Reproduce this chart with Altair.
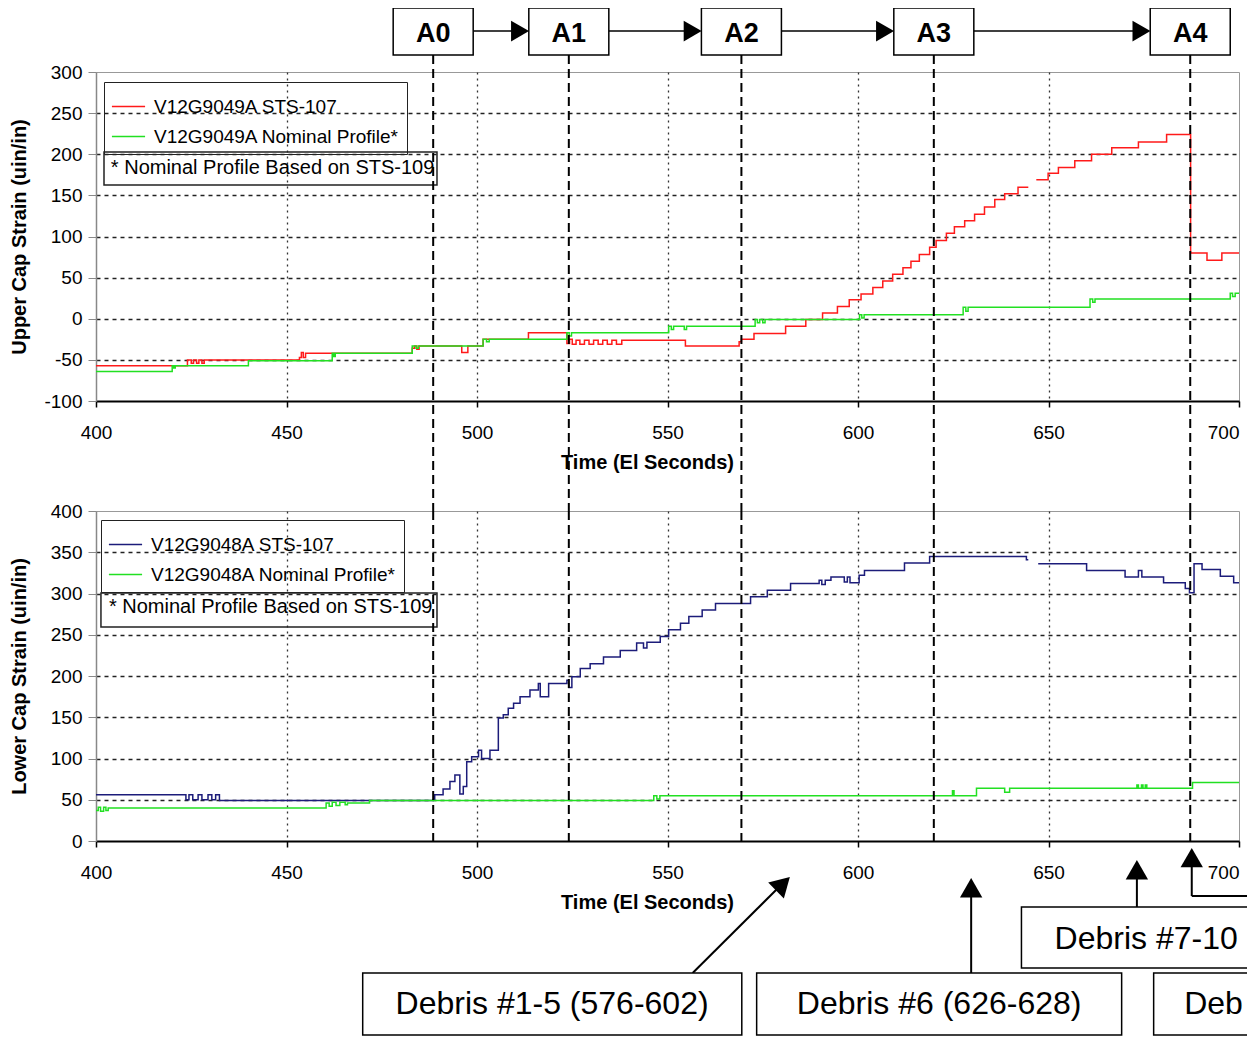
import altair as alt
import pandas as pd

# ---------------- data ----------------
# None in a value list marks a gap in the recorded trace
upper_107_t = [400, 424, 425, 425.6, 426.4, 427, 427.8, 428.4, 453.4, 453.9, 454.4, 455,
               483, 483.6, 484.2, 484.8, 496, 497.6, 501.6, 513.5, 523.6, 524.3, 525, 526,
               527, 528.2, 529.4, 530.6, 531.8, 533, 534.2, 535.4, 536.6, 538, 554.7, 568.8,
               569.4, 572.7, 581, 586.3, 590.7, 594.6, 597.7, 600.8, 603.9, 606.5, 609.1,
               611.8, 613.9, 616.1, 618.8, 620.5, 623.2, 625.3, 628, 630.6, 633.2, 635.9,
               638.5, 642, 644.7, 644.7, 646.8, 649.9, 652.6, 656.9, 661.3, 666.6, 673.6,
               681, 687.3, 691.6, 695.5, 700]
upper_107_v = [-57, -50, -54, -50, -54, -50, -54, -50, -47, -41, -47, -42,
               -36, -33, -37, -33, -41, -33, -25, -17, -30, -25, -31, -26,
               -31, -26, -31, -26, -31, -26, -31, -26, -31, -26, -33, -28,
               -25, -18, -9, -1, 7, 15, 23, 30, 38, 46, 54,
               62, 70, 78, 87, 95, 104, 112, 119, 127, 136, 145,
               152, 160, 160, None, 169, 177, 184, 192, 200, 208, 215,
               224, 80, 71, 80, 80]

upper_nom_t = [400, 420, 420.4, 420.8, 440, 462, 462.4, 462.8, 483, 484, 484.6, 501.6, 502.5,
               503.2, 523.6, 524.2, 524.8, 550.3, 551, 551.6, 554.4, 555, 573, 573.6, 574.2,
               575, 575.6, 600.4, 601, 601.6, 627.6, 628.3, 628.9, 660.9, 661.6, 662.2,
               697.7, 698.3, 699, 700]
upper_nom_v = [-64, -57, -60, -57, -51, -42, -46, -42, -33, -36, -33, -25, -28,
               -25, -17, -21, -17, -9, -13, -9, -13, -9, -1, -5, -1,
               -5, -1, 5, 1, 5, 14, 9, 14, 24, 20, 24,
               31, 27, 31, 31]

lower_107_t = [400, 423.6, 424.4, 425.4, 426.8, 427.8, 429.4, 430.4, 431.4, 432.4, 488.5,
               488.9, 491.1, 492.9, 494.2, 495.5, 496.4, 497.3, 498.6, 500.4, 501.2, 503.4,
               505.6, 506.9, 508.2, 509.6, 511.3, 513.9, 516.1, 516.6, 518.8, 523.6, 524.1,
               524.9, 527.1, 529.7, 533.2, 537.6, 541.9, 543.7, 544.6, 548.1, 550.3, 553.4,
               555.6, 559.1, 562.6, 571.8, 576.2, 582.3, 589.8, 590.5, 591.4, 592.9, 596.4,
               597.2, 597.9, 600.3, 601.7, 612.2, 618.8, 643.6, 644.2, 644.7, 644.7, 647.3,
               660, 670.1, 673.6, 674.5, 680.2, 685.9, 687.0, 688.2, 690.3, 695.1, 698.6, 700]
lower_107_v = [56, 50, 56, 50, 56, 50, 56, 50, 56, 49, 50,
               56, 63, 72, 80, 57, 66, 96, 102, 110, 100, 110,
               149, 153, 161, 167, 175, 183, 191, 175, 191, 195, 186,
               199, 209, 215, 223, 231, 240, 234, 241, 248, 256, 264,
               272, 280, 288, 296, 304, 312, 316, 311, 316, 320, 314,
               320, 313, 322, 328, 337, 345, 345, 341, 341, None, 336,
               328, 320, 328, 320, 313, 306, 301, 336, 329, 321, 313, 313]

lower_nom_t = [400, 400.6, 401.2, 402, 402.6, 403.2, 460.4, 461.2, 462, 463, 464, 465.4, 466,
               471.8, 546.4, 547.2, 548, 624.8, 625.2, 631.1, 638.5, 639.8, 673.2, 673.6,
               674.4, 674.8, 675.4, 675.8, 687.8, 700]
lower_nom_v = [37, 41, 36, 41, 37, 40, 46, 42, 47, 43, 47, 44, 46,
               49, 55, 51, 55, 61, 55, 64, 59, 64, 68, 64,
               68, 64, 68, 64, 71, 71]

upper_series = ["V12G9049A STS-107", "V12G9049A Nominal Profile*"]
lower_series = ["V12G9048A STS-107", "V12G9048A Nominal Profile*"]

event_labels = ["A0", "A1", "A2", "A3", "A4"]
event_times = [488.5, 524.1, 569.4, 619.9, 687.2]

x_ticks = [400, 450, 500, 550, 600, 650, 700]
upper_y_ticks = [-100, -50, 0, 50, 100, 150, 200, 250, 300]
lower_y_ticks = [0, 50, 100, 150, 200, 250, 300, 350, 400]

note_text = "* Nominal Profile Based on STS-109"
debris_labels = ["Debris #1-5 (576-602)", "Debris #6 (626-628)",
                 "Debris #7-10 (650-670)", "Debris #11-14 (688-700)"]

FONT = "Liberation Sans"


def series_df(ts, vs, name):
    rows, seg = [], 0
    for t, v in zip(ts, vs):
        if v is None:
            seg += 1
            continue
        rows.append({"t": t, "v": v, "series": name, "seg": seg})
    return pd.DataFrame(rows)


xs = alt.Scale(domain=[400, 700], nice=False, zero=False)


def x_axis():
    return alt.Axis(values=x_ticks, title="Time (El Seconds)", titleFontWeight="bold",
                    titleFontSize=20, titleColor="black", titlePadding=10, titleX=551,
                    labelFontSize=19, labelColor="black", labelPadding=16, labelFlush=False,
                    labelOverlap=False,
                    labelAlign={"condition": {"test": "datum.value == 700", "value": "right"},
                                "value": "center"},
                    tickSize=6, tickColor="black", tickWidth=1.5,
                    domainColor="black", domainWidth=2, grid=True, gridColor="#333",
                    gridDash=[2, 4], gridWidth=1.3,
                    gridOpacity={"condition": {"test": "datum.value == 400 || datum.value == 700",
                                               "value": 0}, "value": 1})


def y_axis(title, ticks):
    lo, hi = ticks[0], ticks[-1]
    return alt.Axis(values=ticks, title=title, titleFontWeight="bold", titleFontSize=20,
                    titleColor="black", titleX=-67, labelFontSize=19, labelColor="black",
                    labelPadding=6, labelExpr="'' + datum.value", tickSize=8,
                    tickColor="#888", domainColor="#888", domainWidth=1.5, grid=True,
                    gridColor="#222", gridDash=[4, 4], gridWidth=1.5,
                    gridOpacity={"condition": {"test": f"datum.value == {lo} || datum.value == {hi}",
                                               "value": 0}, "value": 1})


def panel(ts_a, vs_a, ts_b, vs_b, names, colors, ytitle, yticks, ydom,
          legend_xy, note_box, note_pos, extra_layers):
    df = pd.concat([series_df(ts_a, vs_a, names[0]), series_df(ts_b, vs_b, names[1])],
                   ignore_index=True)
    ys = alt.Scale(domain=ydom, nice=False, zero=False)
    X = alt.X("t:Q", scale=xs, axis=x_axis())
    Y = alt.Y("v:Q", scale=ys, axis=y_axis(ytitle, yticks))

    lines = alt.Chart(df).mark_line(interpolate="step-after", strokeWidth=1.5).encode(
        x=X, y=Y,
        color=alt.Color("series:N", scale=alt.Scale(domain=names, range=colors),
                        legend=alt.Legend(orient="none", legendX=legend_xy[0],
                                          legendY=legend_xy[1], title=None,
                                          strokeColor="#222", padding=7,
                                          labelFont=FONT, labelFontSize=19,
                                          labelColor="black", symbolType="stroke",
                                          symbolSize=1100, symbolStrokeWidth=1.5,
                                          rowPadding=2, labelOffset=8, labelLimit=400)),
        detail="seg:N",
    )

    note_df = pd.DataFrame([{"t": note_box[0], "t2": note_box[1], "v": note_box[2],
                             "v2": note_box[3], "tx": note_pos[0], "vy": note_pos[1],
                             "txt": note_text}])
    note_rect = alt.Chart(note_df).mark_rect(fillOpacity=0, stroke="#222",
                                             strokeWidth=1.5).encode(
        x=X, x2="t2:Q", y=Y, y2="v2:Q")
    note_lbl = alt.Chart(note_df).mark_text(align="left", baseline="middle", font=FONT,
                                            fontSize=20, color="black").encode(
        x=alt.X("tx:Q", scale=xs, axis=x_axis()),
        y=alt.Y("vy:Q", scale=ys, axis=y_axis(ytitle, yticks)),
        text="txt:N")

    layers = [lines, note_rect, note_lbl] + [l(X, Y) for l in extra_layers]
    return alt.layer(*layers)


# ---------- annotation builders (positions in data coordinates) ----------
def event_rules(v_top, v_bot):
    def f(X, Y):
        d = pd.DataFrame({"t": event_times, "v": [v_top] * 5, "v2": [v_bot] * 5})
        return alt.Chart(d).mark_rule(color="black", strokeWidth=2,
                                      strokeDash=[9, 5]).encode(x=X, y=Y, y2="v2:Q")
    return f


HALF_BOX = 10.5
RIGHT_END = 705.5


def a_boxes(X, Y):
    d = pd.DataFrame({"t": [e - HALF_BOX for e in event_times],
                      "t2": [e + HALF_BOX for e in event_times],
                      "v": [320.7] * 5, "v2": [377.8] * 5})
    return alt.Chart(d).mark_rect(fill="white", stroke="black", strokeWidth=1.5).encode(
        x=X, x2="t2:Q", y=Y, y2="v2:Q")


def a_text(X, Y):
    d = pd.DataFrame({"t": event_times, "v": [346.5] * 5, "lbl": event_labels})
    return alt.Chart(d).mark_text(font=FONT, fontSize=27, fontWeight="bold",
                                  baseline="middle", color="black").encode(
        x=X, y=Y, text="lbl:N")


def a_arrows(X, Y):
    d = pd.DataFrame({"t": [event_times[i] + HALF_BOX for i in range(4)],
                      "t2": [event_times[i + 1] - HALF_BOX - 2 for i in range(4)],
                      "v": [349.8] * 4})
    return alt.Chart(d).mark_rule(color="black", strokeWidth=1.6).encode(
        x=X, x2="t2:Q", y=Y)


def a_heads(X, Y):
    d = pd.DataFrame({"t": [event_times[i + 1] - HALF_BOX - 2.3 for i in range(4)],
                      "v": [349.8] * 4})
    return alt.Chart(d).mark_point(shape="triangle-right", filled=True, size=430,
                                   color="black", opacity=1).encode(x=X, y=Y)


def debris_boxes(X, Y):
    d = pd.DataFrame({"t": [470.0, 573.4, 642.9, 677.6],
                      "t2": [569.5, 669.2, RIGHT_END, RIGHT_END],
                      "v": [-160, -160, -80, -160],
                      "v2": [-235.2, -235.2, -154, -235.2]})
    return alt.Chart(d).mark_rect(fill="white", stroke="black", strokeWidth=1.5).encode(
        x=X, x2="t2:Q", y=Y, y2="v2:Q")


def debris_center_text(X, Y):
    d = pd.DataFrame({"t": [519.7, 621.3], "v": [-197.6, -197.6],
                      "lbl": debris_labels[:2]})
    return alt.Chart(d).mark_text(font=FONT, fontSize=32, baseline="middle",
                                  color="black").encode(x=X, y=Y, text="lbl:N")


def debris_cut_text_a(X, Y):
    d = pd.DataFrame({"t": [651.6], "v": [-119], "lbl": [debris_labels[2]]})
    return alt.Chart(d).mark_text(font=FONT, fontSize=32, baseline="middle", align="left",
                                  color="black", limit=196, ellipsis=" ").encode(
        x=X, y=Y, text="lbl:N")


def debris_cut_text_b(X, Y):
    d = pd.DataFrame({"t": [685.6], "v": [-197.6], "lbl": [debris_labels[3]]})
    return alt.Chart(d).mark_text(font=FONT, fontSize=32, baseline="middle", align="left",
                                  color="black", limit=68, ellipsis=" ").encode(
        x=X, y=Y, text="lbl:N")


def debris_shafts(X, Y):
    d = pd.DataFrame({"t": [556.6, 629.7, 673.2, 687.6, 687.6],
                      "t2": [580.0, 629.7, 673.2, 687.6, RIGHT_END],
                      "v": [-160, -160, -80, -66.7, -66.7],
                      "v2": [-52.5, -56, -35, -20, -66.7]})
    return alt.Chart(d).mark_rule(color="black", strokeWidth=2).encode(
        x=X, x2="t2:Q", y=Y, y2="v2:Q")


def debris_heads_up(X, Y):
    d = pd.DataFrame({"t": [629.7, 673.2, 687.6], "v": [-56.6, -34.8, -20.2]})
    return alt.Chart(d).mark_point(shape="triangle-up", filled=True, size=500,
                                   color="black", opacity=1).encode(x=X, y=Y)


def debris_head_diag(X, Y):
    d = pd.DataFrame({"t": [580.3], "v": [-51.9]})
    return alt.Chart(d).mark_point(shape="triangle-up", filled=True, size=500, angle=45.6,
                                   color="black", opacity=1).encode(x=X, y=Y)


top = panel(upper_107_t, upper_107_v, upper_nom_t, upper_nom_v, upper_series,
            ["#ff1a1a", "#22e022"], "Upper Cap Strain (uin/in)", upper_y_ticks, [-100, 300],
            (8, 10), (402.1, 489.5, 202.7, 162.6), (403.9, 183.3),
            [event_rules(320.7, -233.7), a_arrows, a_heads, a_boxes, a_text]
            ).properties(width=1143, height=329)

bottom = panel(lower_107_t, lower_107_v, lower_nom_t, lower_nom_v, lower_series,
               ["#1c1c7a", "#22e022"], "Lower Cap Strain (uin/in)", lower_y_ticks, [0, 400],
               (5, 9), (401.3, 489.5, 300.6, 259.4), (403.4, 283.6),
               [event_rules(400, 0), debris_shafts, debris_heads_up, debris_head_diag,
                debris_boxes, debris_center_text, debris_cut_text_a, debris_cut_text_b]
               ).properties(width=1143, height=330)

chart = alt.vconcat(top, bottom, spacing=110, bounds="flush",
                    padding={"left": 0, "top": -2, "right": -15, "bottom": 0}
                    ).resolve_scale(color="independent", y="independent"
                    ).configure(font=FONT
                    ).configure_view(stroke="#999", strokeWidth=1
                    ).configure_axis(labelFont=FONT, titleFont=FONT)

chart.save("out.html", embed_options={"renderer": "svg", "actions": False})
